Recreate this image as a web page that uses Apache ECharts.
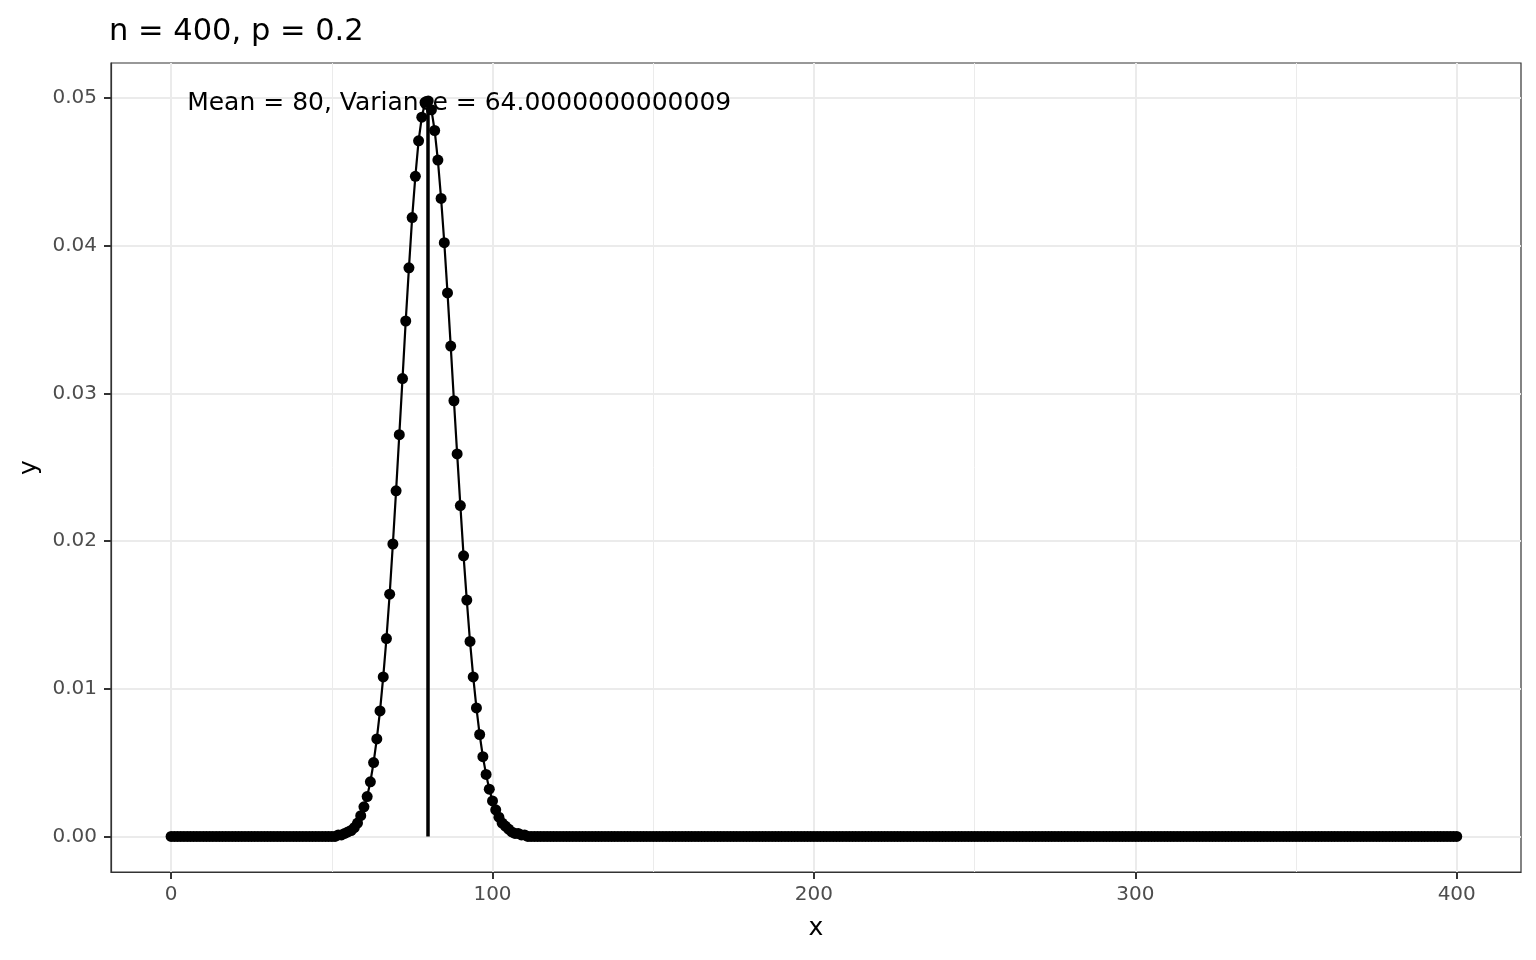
<!DOCTYPE html>
<html>
<head>
<meta charset="utf-8">
<title>n = 400, p = 0.2</title>
<script src="https://cdn.jsdelivr.net/npm/echarts@6/dist/echarts.min.js"></script>
<style>
  html, body { margin: 0; padding: 0; background: #fff; }
  #chart { width: 1536px; height: 960px; }
</style>
</head>
<body>
<div id="chart"></div>
<script>
// probability for x = 0 .. 400 (10 per row)
const yValues = [
  0, 0, 0, 0, 0, 0, 0, 0, 0, 0,
  0, 0, 0, 0, 0, 0, 0, 0, 0, 0,
  0, 0, 0, 0, 0, 0, 0, 0, 0, 0,
  0, 0, 0, 0, 0, 0, 0, 0, 0, 0,
  0, 0, 0, 0, 0, 0, 0, 0, 0, 0,
  0, 0, 0.0001, 0.0001, 0.0002, 0.0003, 0.0004, 0.0006, 0.0009, 0.0014,
  0.0020, 0.0027, 0.0037, 0.0050, 0.0066, 0.0085, 0.0108, 0.0134, 0.0164, 0.0198,
  0.0234, 0.0272, 0.0310, 0.0349, 0.0385, 0.0419, 0.0447, 0.0471, 0.0487, 0.0497,
  0.0498, 0.0492, 0.0478, 0.0458, 0.0432, 0.0402, 0.0368, 0.0332, 0.0295, 0.0259,
  0.0224, 0.0190, 0.0160, 0.0132, 0.0108, 0.0087, 0.0069, 0.0054, 0.0042, 0.0032,
  0.0024, 0.0018, 0.0013, 0.0009, 0.0007, 0.0005, 0.0003, 0.0002, 0.0002, 0.0001,
  0.0001, 0, 0, 0, 0, 0, 0, 0, 0, 0,
  0, 0, 0, 0, 0, 0, 0, 0, 0, 0,
  0, 0, 0, 0, 0, 0, 0, 0, 0, 0,
  0, 0, 0, 0, 0, 0, 0, 0, 0, 0,
  0, 0, 0, 0, 0, 0, 0, 0, 0, 0,
  0, 0, 0, 0, 0, 0, 0, 0, 0, 0,
  0, 0, 0, 0, 0, 0, 0, 0, 0, 0,
  0, 0, 0, 0, 0, 0, 0, 0, 0, 0,
  0, 0, 0, 0, 0, 0, 0, 0, 0, 0,
  0, 0, 0, 0, 0, 0, 0, 0, 0, 0,
  0, 0, 0, 0, 0, 0, 0, 0, 0, 0,
  0, 0, 0, 0, 0, 0, 0, 0, 0, 0,
  0, 0, 0, 0, 0, 0, 0, 0, 0, 0,
  0, 0, 0, 0, 0, 0, 0, 0, 0, 0,
  0, 0, 0, 0, 0, 0, 0, 0, 0, 0,
  0, 0, 0, 0, 0, 0, 0, 0, 0, 0,
  0, 0, 0, 0, 0, 0, 0, 0, 0, 0,
  0, 0, 0, 0, 0, 0, 0, 0, 0, 0,
  0, 0, 0, 0, 0, 0, 0, 0, 0, 0,
  0, 0, 0, 0, 0, 0, 0, 0, 0, 0,
  0, 0, 0, 0, 0, 0, 0, 0, 0, 0,
  0, 0, 0, 0, 0, 0, 0, 0, 0, 0,
  0, 0, 0, 0, 0, 0, 0, 0, 0, 0,
  0, 0, 0, 0, 0, 0, 0, 0, 0, 0,
  0, 0, 0, 0, 0, 0, 0, 0, 0, 0,
  0, 0, 0, 0, 0, 0, 0, 0, 0, 0,
  0, 0, 0, 0, 0, 0, 0, 0, 0, 0,
  0, 0, 0, 0, 0, 0, 0, 0, 0, 0,
  0, 0, 0, 0, 0, 0, 0, 0, 0, 0,
  0
]

const meanX = 80
const peakY = 0.0498
const noteX = 5
const noteText = "Mean = 80, Variance = 64.0000000000009"
const titleText = "n = 400, p = 0.2"

const xMajor = [0, 100, 200, 300, 400]
const xMinor = [50, 150, 250, 350]
const yMajor = [0, 0.01, 0.02, 0.03, 0.04, 0.05]
const yMinor = [0.005, 0.015, 0.025, 0.035, 0.045]

const font = "DejaVu Sans"
const gridColor = "#ebebeb"
const frameColor = "#333333"

const points = yValues.map((y, i) => [i, y])

function gridLines(values, dim, width) {
  return values.map(v => ({
    [dim]: v,
    lineStyle: { color: gridColor, width: width, type: "solid" }
  }))
}

const chart = echarts.init(document.getElementById("chart"))

chart.setOption({
  animation: false,
  backgroundColor: "#fff",
  textStyle: { fontFamily: font },
  title: {
    text: titleText,
    left: 109,
    top: 17,
    padding: 0,
    textStyle: { fontFamily: font, fontSize: 30.5, fontWeight: "normal", color: "#000" }
  },
  grid: {
    left: 111,
    right: 15,
    top: 63,
    bottom: 88,
    show: true,
    borderColor: frameColor,
    borderWidth: 1.2,
    backgroundColor: "#fff"
  },
  xAxis: {
    type: "value",
    min: -18.7,
    max: 420,
    name: "x",
    nameLocation: "middle",
    nameGap: 44,
    nameTextStyle: { fontFamily: font, fontSize: 25, color: "#000" },
    axisLine: { show: true, onZero: false, lineStyle: { color: frameColor, width: 1.2 } },
    splitLine: { show: false },
    axisTick: {
      show: true,
      inside: false,
      customValues: xMajor,
      length: 7,
      lineStyle: { color: frameColor, width: 2 }
    },
    axisLabel: {
      customValues: xMajor,
      margin: 13,
      fontFamily: font,
      fontSize: 20,
      color: "#4d4d4d"
    }
  },
  yAxis: {
    type: "value",
    min: -0.00241,
    max: 0.05237,
    name: "y",
    nameLocation: "middle",
    nameGap: 66,
    nameRotate: 90,
    nameTextStyle: { fontFamily: font, fontSize: 25, color: "#000" },
    axisLine: { show: true, onZero: false, lineStyle: { color: frameColor, width: 1.2 } },
    splitLine: { show: false },
    axisTick: {
      show: true,
      inside: false,
      customValues: yMajor,
      length: 7,
      lineStyle: { color: frameColor, width: 2 }
    },
    axisLabel: {
      customValues: yMajor,
      margin: 14,
      fontFamily: font,
      fontSize: 20,
      color: "#4d4d4d",
      formatter: v => v.toFixed(2)
    }
  },
  series: [
    {
      // panel grid, drawn under the data
      type: "line",
      data: [],
      z: 0,
      silent: true,
      markLine: {
        z: 0,
        silent: true,
        symbol: "none",
        label: { show: false },
        animation: false,
        data: [
          ...gridLines(xMinor, "xAxis", 1),
          ...gridLines(yMinor, "yAxis", 1),
          ...gridLines(xMajor, "xAxis", 2),
          ...gridLines(yMajor, "yAxis", 2)
        ]
      }
    },
    {
      type: "line",
      data: points,
      z: 3,
      symbol: "circle",
      symbolSize: 11,
      showSymbol: true,
      lineStyle: { color: "#000", width: 2.2 },
      itemStyle: { color: "#000", borderWidth: 0 },
      emphasis: { disabled: true },
      markLine: {
        z: 6,
        silent: true,
        symbol: "none",
        label: { show: false },
        lineStyle: { color: "#000", width: 3.5, type: "solid" },
        data: [[{ coord: [meanX, 0] }, { coord: [meanX, peakY] }]]
      },
      markPoint: {
        z: 7,
        silent: true,
        symbol: "circle",
        symbolSize: 0,
        data: [{ coord: [noteX, peakY] }],
        label: {
          show: true,
          position: "right",
          distance: 0,
          offset: [0, 3],
          formatter: noteText,
          fontFamily: font,
          fontSize: 25,
          color: "#000"
        }
      }
    }
  ]
})
</script>
</body>
</html>
